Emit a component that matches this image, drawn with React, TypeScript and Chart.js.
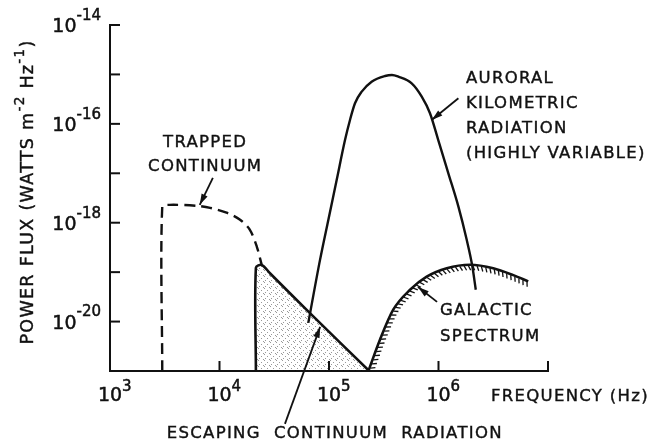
import React, { useEffect, useRef } from "react";
import { Chart, registerables } from "chart.js";

Chart.register(...registerables);

const FONT = '"DejaVu Sans", "Liberation Sans", sans-serif';
const INK = "#111111";

// ---- Data: frequency (Hz) and power flux (W m^-2 Hz^-1) ----
// Trapped continuum (dashed)
const trappedFreq = [3.0e3, 3.0e3, 3.5e3, 6.2e3, 8.2e3, 1.16e4, 1.54e4, 1.9e4, 2.19e4, 2.43e4];
const trappedFlux = [1e-21, 2.1e-18, 2.3e-18, 2.2e-18, 2.0e-18, 1.6e-18, 1.15e-18, 7.1e-19, 3.3e-19, 1.4e-19];

// Escaping continuum radiation (shaded)
const escapingFreq = [2.15e4, 2.15e4, 2.43e4, 2.89e4, 6.7e4, 2.33e5];
const escapingFlux = [1e-21, 1.23e-19, 1.4e-19, 9.5e-20, 1.48e-20, 1e-21];

// Auroral kilometric radiation
const akrFreq = [6.47e4, 8.28e4, 9.86e4, 1.175e5, 1.4e5, 1.555e5, 1.727e5, 1.99e5, 2.45e5, 3.25e5, 3.76e5, 4.3e5, 5.69e5, 7.03e5, 8.36e5, 9.95e5, 1.23e6, 1.52e6, 1.81e6, 2.04e6, 2.19e6];
const akrFlux = [9.4e-21, 1.77e-19, 1.14e-18, 7.3e-18, 4.7e-17, 1.2e-16, 2.61e-16, 4.48e-16, 7.13e-16, 9.3e-16, 9.75e-16, 9.0e-16, 6.6e-16, 3.55e-16, 1.64e-16, 4.7e-17, 1.0e-17, 2.12e-18, 4.5e-19, 1.29e-19, 4.4e-20];

// Galactic spectrum (hatched)
const galacticFreq = [2.29e5, 2.92e5, 3.86e5, 5.5e5, 7.8e5, 1.19e6, 1.94e6, 3.16e6, 4.82e6, 6.6e6];
const galacticFlux = [1.0e-21, 4.3e-21, 1.74e-20, 4.4e-20, 8.1e-20, 1.2e-19, 1.41e-19, 1.2e-19, 8.7e-20, 6.5e-20];

// ---- Axes ----
const xMin = 1e3;
const xMax = 1e7;
const yMin = 1e-21;
const yMax = 1e-14;
const xTickMarkExps = [3, 4, 5, 6, 7];
const xTickLabelExps = [3, 4, 5, 6];
const yTickMarkExps = [-14, -15, -16, -17, -18, -19, -20, -21];
const yTickLabelExps = [-14, -16, -18, -20];
const xAxisTitle = "FREQUENCY (Hz)";
const yAxisTitleParts: [string, boolean][] = [
  ["POWER FLUX (WATTS m", false],
  ["-2", true],
  [" Hz", false],
  ["-1", true],
  [")", false],
];

// ---- Annotations (anchored in data coordinates) ----
const trappedLabel = ["TRAPPED", "CONTINUUM"];
const akrLabel = ["AURORAL", "KILOMETRIC", "RADIATION", "(HIGHLY VARIABLE)"];
const galacticLabel = ["GALACTIC", "SPECTRUM"];
const escapingLabel = ["ESCAPING  CONTINUUM  RADIATION"];

const labels = [
  { lines: trappedLabel, f: 7.4e3, p: 4.1e-17, align: "center", gap: 24 },
  { lines: akrLabel, f: 1.78e6, p: 8.1e-16, align: "left", gap: 25 },
  { lines: galacticLabel, f: 1.03e6, p: 1.64e-20, align: "left", gap: 26 },
  { lines: escapingLabel, f: 1.13e5, p: 5.4e-23, align: "center", gap: 24 },
];

const arrows = [
  { f1: 8.7e3, p1: 8.05e-18, f2: 6.6e3, p2: 2.3e-18 },
  { f1: 1.52e6, p1: 3.3e-16, f2: 8.67e5, p2: 1.2e-16 },
  { f1: 9.7e5, p1: 2.5e-20, f2: 6.5e5, p2: 5.0e-20 },
  { f1: 3.96e4, p1: 8.5e-23, f2: 8.3e4, p2: 7.8e-21 },
];

const toPts = (xs: number[], ys: number[]) => xs.map((x, i) => ({ x, y: ys[i] }));

function makeStipple(): CanvasPattern | string {
  const c = document.createElement("canvas");
  c.width = 6;
  c.height = 6;
  const g = c.getContext("2d");
  if (!g) return "rgba(0,0,0,0.08)";
  g.fillStyle = "rgba(0,0,0,0.4)";
  [[0, 0], [3, 2], [1, 4], [5, 5]].forEach(([x, y]) => g.fillRect(x, y, 1, 1));
  return g.createPattern(c, "repeat") || "rgba(0,0,0,0.08)";
}

function drawArrow(ctx: CanvasRenderingContext2D, x1: number, y1: number, x2: number, y2: number) {
  ctx.beginPath();
  ctx.moveTo(x1, y1);
  ctx.lineTo(x2, y2);
  ctx.stroke();
  const a = Math.atan2(y2 - y1, x2 - x1);
  const L = 11;
  const W = 3.3;
  const c = Math.cos(a);
  const s = Math.sin(a);
  ctx.beginPath();
  ctx.moveTo(x2, y2);
  ctx.lineTo(x2 - L * c + W * s, y2 - L * s - W * c);
  ctx.lineTo(x2 - L * c - W * s, y2 - L * s + W * c);
  ctx.closePath();
  ctx.fill();
}

function text(ctx: CanvasRenderingContext2D, t: string, x: number, y: number) {
  ctx.fillText(t, x, y);
  ctx.strokeText(t, x, y);
}

function hatchUnder(chart: any, idx: number) {
  const meta = chart.getDatasetMeta(idx);
  const pts = meta.data as any[];
  const ctx: CanvasRenderingContext2D = chart.ctx;
  const samples: { x: number; y: number }[] = [];
  for (let i = 0; i < pts.length - 1; i++) {
    const a = pts[i];
    const b = pts[i + 1];
    const c1x = a.cp2x ?? a.x, c1y = a.cp2y ?? a.y;
    const c2x = b.cp1x ?? b.x, c2y = b.cp1y ?? b.y;
    const N = 40;
    for (let k = 0; k < N; k++) {
      const t = k / N;
      const mt = 1 - t;
      samples.push({
        x: mt * mt * mt * a.x + 3 * mt * mt * t * c1x + 3 * mt * t * t * c2x + t * t * t * b.x,
        y: mt * mt * mt * a.y + 3 * mt * mt * t * c1y + 3 * mt * t * t * c2y + t * t * t * b.y,
      });
    }
  }
  const last = pts[pts.length - 1];
  samples.push({ x: last.x, y: last.y });
  const area = chart.chartArea;
  ctx.save();
  ctx.beginPath();
  ctx.rect(area.left, area.top, area.right - area.left, area.bottom - area.top);
  ctx.clip();
  ctx.strokeStyle = INK;
  ctx.lineWidth = 1.3;
  const spacing = 4.4;
  const len = 6;
  const th = (25 * Math.PI) / 180;
  let acc = 0;
  let next = 3;
  for (let j = 0; j < samples.length - 1; j++) {
    const p = samples[j];
    const q = samples[j + 1];
    const dx = q.x - p.x;
    const dy = q.y - p.y;
    const sl = Math.hypot(dx, dy);
    if (sl === 0) continue;
    while (acc + sl >= next) {
      const t = (next - acc) / sl;
      const x = p.x + dx * t;
      const y = p.y + dy * t;
      const ux = dx / sl;
      const uy = dy / sl;
      const nx = -uy;
      const ny = ux;
      const hx = nx * Math.cos(th) + ux * Math.sin(th);
      const hy = ny * Math.cos(th) + uy * Math.sin(th);
      ctx.beginPath();
      ctx.moveTo(x + hx * 1, y + hy * 1);
      ctx.lineTo(x + hx * len, y + hy * len);
      ctx.stroke();
      next += spacing;
    }
    acc += sl;
  }
  ctx.restore();
}

const decorPlugin = {
  id: "decor",
  afterDatasetsDraw(chart: any) {
    hatchUnder(chart, 3);
  },
  afterDraw(chart: any) {
    const ctx: CanvasRenderingContext2D = chart.ctx;
    const xs = chart.scales.x;
    const ys = chart.scales.y;
    const area = chart.chartArea;
    ctx.save();
    (ctx as any).letterSpacing = "0px";
    ctx.strokeStyle = INK;
    ctx.fillStyle = INK;
    ctx.lineWidth = 2;

    // inward tick marks
    yTickMarkExps.forEach((e) => {
      const y = ys.getPixelForValue(Math.pow(10, e));
      ctx.beginPath();
      ctx.moveTo(area.left, y);
      ctx.lineTo(area.left + 10, y);
      ctx.stroke();
    });
    xTickMarkExps.forEach((e) => {
      const x = xs.getPixelForValue(Math.pow(10, e));
      ctx.beginPath();
      ctx.moveTo(x, area.bottom);
      ctx.lineTo(x, area.bottom - 10);
      ctx.stroke();
    });

    // tick labels (10 with superscript exponent)
    ctx.lineWidth = 0.5;
    const baseFont = `19px ${FONT}`;
    const expFont = `15px ${FONT}`;
    ctx.textBaseline = "middle";
    ctx.textAlign = "left";
    yTickLabelExps.forEach((e) => {
      const y = ys.getPixelForValue(Math.pow(10, e));
      const es = "-" + String(Math.abs(e));
      ctx.font = baseFont;
      const wb = ctx.measureText("10").width;
      ctx.font = expFont;
      const we = ctx.measureText(es).width;
      const x0 = area.left - 9 - wb - we;
      ctx.font = baseFont;
      text(ctx, "10", x0, y + 2);
      ctx.font = expFont;
      text(ctx, es, x0 + wb, y - 9);
    });
    xTickLabelExps.forEach((e) => {
      const x = xs.getPixelForValue(Math.pow(10, e));
      ctx.font = baseFont;
      const wb = ctx.measureText("10").width;
      const x0 = x - wb / 2;
      text(ctx, "10", x0, area.bottom + 25);
      ctx.font = expFont;
      text(ctx, String(e), x0 + wb, area.bottom + 16);
    });

    // text annotations
    (ctx as any).letterSpacing = "1.3px";
    ctx.lineWidth = 0.4;
    ctx.font = `16.5px ${FONT}`;
    labels.forEach((lb) => {
      const x = xs.getPixelForValue(lb.f);
      const y = ys.getPixelForValue(lb.p);
      ctx.textAlign = lb.align as CanvasTextAlign;
      lb.lines.forEach((line, i) => text(ctx, line, x, y + i * lb.gap));
    });

    // x-axis title
    ctx.textAlign = "left";
    text(ctx, xAxisTitle, area.right - 57, area.bottom + 26);

    // y-axis title, rotated, with superscripts
    const mainFont = `17.5px ${FONT}`;
    const supFont = `13.5px ${FONT}`;
    let total = 0;
    const widths = yAxisTitleParts.map(([t, sup]) => {
      ctx.font = sup ? supFont : mainFont;
      const w = ctx.measureText(t).width;
      total += w;
      return w;
    });
    ctx.save();
    ctx.translate(28, 192);
    ctx.rotate(-Math.PI / 2);
    let cx = -total / 2;
    yAxisTitleParts.forEach(([t, sup], i) => {
      ctx.font = sup ? supFont : mainFont;
      text(ctx, t, cx, sup ? -8 : 0);
      cx += widths[i];
    });
    ctx.restore();

    // arrows
    ctx.lineWidth = 1.8;
    arrows.forEach((a) => {
      drawArrow(
        ctx,
        xs.getPixelForValue(a.f1),
        ys.getPixelForValue(a.p1),
        xs.getPixelForValue(a.f2),
        ys.getPixelForValue(a.p2)
      );
    });
    ctx.restore();
  },
};

export default function App() {
  const ref = useRef<HTMLCanvasElement | null>(null);
  useEffect(() => {
    const canvas = ref.current;
    if (!canvas) return;
    const stipple = makeStipple();
    const chart = new Chart(canvas, {
      type: "line",
      data: {
        datasets: [
          {
            label: "Escaping continuum radiation",
            data: toPts(escapingFreq, escapingFlux),
            borderColor: INK,
            borderWidth: 2.6,
            backgroundColor: stipple as any,
            fill: "start",
            pointRadius: 0,
            tension: 0.3,
          },
          {
            label: "Trapped continuum",
            data: toPts(trappedFreq, trappedFlux),
            borderColor: INK,
            borderWidth: 2.4,
            borderDash: [11, 6],
            fill: false,
            pointRadius: 0,
            tension: 0.3,
          },
          {
            label: "Auroral kilometric radiation",
            data: toPts(akrFreq, akrFlux),
            borderColor: INK,
            borderWidth: 2.4,
            fill: false,
            pointRadius: 0,
            cubicInterpolationMode: "monotone",
          },
          {
            label: "Galactic spectrum",
            data: toPts(galacticFreq, galacticFlux),
            borderColor: INK,
            borderWidth: 2.6,
            fill: false,
            pointRadius: 0,
            cubicInterpolationMode: "monotone",
          },
        ],
      },
      options: {
        responsive: false,
        animation: false,
        devicePixelRatio: 1,
        layout: { padding: { left: 110, right: 105, top: 25, bottom: 77 } },
        plugins: { legend: { display: false }, tooltip: { enabled: false } },
        scales: {
          x: {
            type: "logarithmic",
            min: xMin,
            max: xMax,
            grid: { display: false, drawTicks: false },
            ticks: { display: false },
            border: { display: true, color: INK, width: 2 },
          },
          y: {
            type: "logarithmic",
            min: yMin,
            max: yMax,
            grid: { display: false, drawTicks: false },
            ticks: { display: false },
            border: { display: true, color: INK, width: 2 },
          },
        },
      },
      plugins: [decorPlugin],
    });
    return () => chart.destroy();
  }, []);
  return (
    <canvas
      ref={ref}
      width={653}
      height={448}
      style={{ position: "fixed", left: 0, top: 0, display: "block", background: "#fff" }}
    />
  );
}
